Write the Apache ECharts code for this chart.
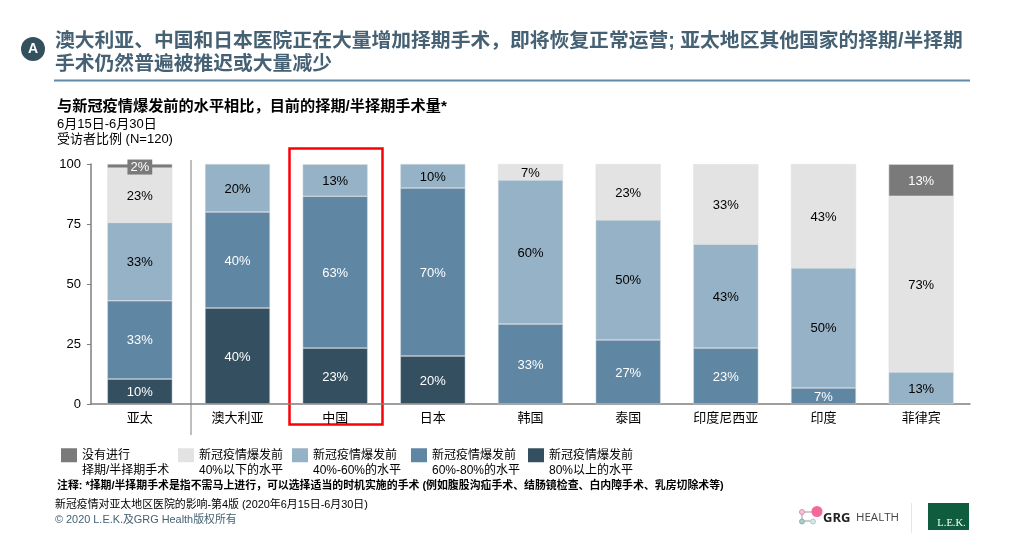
<!DOCTYPE html>
<html>
<head>
<meta charset="utf-8">
<style>
  html, body { margin: 0; padding: 0; background: #fff; }
  #chart { width: 1024px; height: 545px; }
</style>
<script src="https://cdn.jsdelivr.net/npm/echarts@6/dist/echarts.min.js"></script>
</head>
<body>
<div id="chart"></div>
<script>
const categories = ['亚太', '澳大利亚', '中国', '日本', '韩国', '泰国', '印度尼西亚', '印度', '菲律宾'];
const yTicks = [0, 25, 50, 75, 100];

const seriesNames = [
  '新冠疫情爆发前\n80%以上的水平',
  '新冠疫情爆发前\n60%-80%的水平',
  '新冠疫情爆发前\n40%-60%的水平',
  '新冠疫情爆发前\n40%以下的水平',
  '没有进行\n择期/半择期手术'
];
const above80 = [10.4, 40, 23.3, 20, null, null, null, null, null];
const from60to80 = [32.6, 40, 63.3, 70, 33.3, 26.7, 23.3, 6.7, null];
const from40to60 = [32.6, 20, 13.3, 10, 60, 50, 43.3, 50, 13.3];
const below40 = [22.7, null, null, null, 6.7, 23.3, 33.3, 43.3, 73.3];
const noSurgery = [1.7, null, null, null, null, null, null, null, 13.3];

const fontFamily = '"Liberation Sans", "Noto Sans CJK SC", sans-serif';
const titleLines = [
  '澳大利亚、中国和日本医院正在大量增加择期手术，即将恢复正常运营; 亚太地区其他国家的择期/半择期',
  '手术仍然普遍被推迟或大量减少'
];
const subtitle = '与新冠疫情爆发前的水平相比，目前的择期/半择期手术量*';
const dateLine = '6月15日-6月30日';
const baseLine = '受访者比例 (N=120)';
const noteLine = '注释: *择期/半择期手术是指不需马上进行，可以选择适当的时机实施的手术 (例如腹股沟疝手术、结肠镜检查、白内障手术、乳房切除术等)';
const sourceLine = '新冠疫情对亚太地区医院的影响-第4版 (2020年6月15日-6月30日)';
const copyrightLine = '© 2020 L.E.K.及GRG Health版权所有';

function makeSeries(name, values, color, labelColor) {
  return {
    type: 'bar',
    name,
    stack: 'total',
    barWidth: 65,
    data: values,
    itemStyle: { color, borderColor: '#d8dde0', borderWidth: 0.5 },
    label: {
      show: true,
      position: 'inside',
      offset: [0, 1],
      color: labelColor,
      fontSize: 13,
      fontFamily,
      formatter: p => Math.round(p.value) + '%'
    }
  };
}

function makeLegend(name, left) {
  return {
    show: true,
    left,
    top: 432,
    padding: 0,
    selectedMode: false,
    itemWidth: 16,
    itemHeight: 14,
    itemGap: 0,
    icon: 'rect',
    itemStyle: { borderWidth: 0 },
    data: [name],
    // blank first line keeps the swatch level with the first text line
    formatter: n => ' \n' + n,
    textStyle: { color: '#000', fontSize: 12, lineHeight: 15.5, fontFamily }
  };
}

function textItem(x, y, text, size, extra) {
  return {
    type: 'text',
    x,
    y,
    silent: true,
    style: Object.assign({
      text,
      fontSize: size,
      fontFamily,
      fill: '#000',
      verticalAlign: 'middle'
    }, extra)
  };
}

const noneSeries = makeSeries(seriesNames[4], noSurgery.map((v, i) => (i === 0 ? {
  value: v,
  label: { backgroundColor: '#7a7a7a', padding: [1, 3, 1, 3] }
} : v)), '#7a7a7a', '#fff');

const option = {
  animation: false,
  backgroundColor: '#fff',
  grid: { left: 91, right: 54, top: 164, bottom: 141 },
  legend: [
    makeLegend(seriesNames[4], 61),
    makeLegend(seriesNames[3], 178),
    makeLegend(seriesNames[2], 292),
    makeLegend(seriesNames[1], 411),
    makeLegend(seriesNames[0], 528)
  ],
  xAxis: {
    type: 'category',
    data: categories,
    axisLine: { lineStyle: { color: '#7f7f7f', width: 1.5 } },
    axisTick: { show: false },
    axisLabel: { color: '#000', fontSize: 13, margin: 8, fontFamily }
  },
  yAxis: {
    type: 'value',
    min: 0,
    max: yTicks[yTicks.length - 1],
    interval: 25,
    axisLine: { show: true, lineStyle: { color: '#7f7f7f', width: 1.5 } },
    axisTick: { show: true, length: 4, lineStyle: { color: '#7f7f7f' } },
    axisLabel: { color: '#000', fontSize: 13, margin: 10, fontFamily },
    splitLine: { show: false }
  },
  series: [
    makeSeries(seriesNames[0], above80, '#344f60', '#fff'),
    makeSeries(seriesNames[1], from60to80, '#5f86a3', '#fff'),
    makeSeries(seriesNames[2], from40to60, '#96b2c6', '#000'),
    makeSeries(seriesNames[3], below40, '#e3e3e3', '#000'),
    noneSeries
  ],
  graphic: [
    // header
    { type: 'circle', shape: { cx: 33, cy: 49, r: 12 }, style: { fill: '#34505f' }, silent: true },
    textItem(33, 49, 'A', 14, { fill: '#fff', fontWeight: 'bold', align: 'center' }),
    textItem(55, 42, titleLines[0], 19.8, { fill: '#456173', fontWeight: 'bold' }),
    textItem(55, 65, titleLines[1], 19.8, { fill: '#456173', fontWeight: 'bold' }),
    { type: 'line', shape: { x1: 54, y1: 80.5, x2: 970, y2: 80.5 }, style: { stroke: '#5f8aa8', lineWidth: 2 }, silent: true },
    textItem(57, 107, subtitle, 15.2, { fontWeight: 'bold' }),
    textItem(57, 124, dateLine, 13),
    textItem(57, 139.5, baseLine, 13),
    // divider and highlight box
    { type: 'line', shape: { x1: 191, y1: 160, x2: 191, y2: 435 }, style: { stroke: '#7f7f7f', lineWidth: 1 }, silent: true },
    { type: 'rect', shape: { x: 289.5, y: 148.5, width: 93, height: 276 }, style: { fill: 'none', stroke: '#fb0007', lineWidth: 2.5 }, silent: true },
    // footer
    textItem(57, 485.5, noteLine, 10.9, { fontWeight: 'bold' }),
    textItem(55, 505, sourceLine, 10.9),
    textItem(55, 520, copyrightLine, 10.9, { fill: '#456173' }),
    // GRG logo
    { type: 'line', shape: { x1: 802, y1: 512, x2: 812, y2: 512 }, style: { stroke: '#999', lineWidth: 1 }, silent: true },
    { type: 'line', shape: { x1: 802, y1: 521, x2: 812, y2: 521 }, style: { stroke: '#999', lineWidth: 1 }, silent: true },
    { type: 'line', shape: { x1: 802, y1: 512, x2: 802, y2: 521 }, style: { stroke: '#999', lineWidth: 1 }, silent: true },
    { type: 'circle', shape: { cx: 802, cy: 512, r: 2.5 }, style: { fill: '#f5c6da', stroke: '#d98fb0' }, silent: true },
    { type: 'circle', shape: { cx: 802, cy: 521.5, r: 2.5 }, style: { fill: '#a9cccc', stroke: '#8bb3b3' }, silent: true },
    { type: 'circle', shape: { cx: 813, cy: 521.5, r: 2.5 }, style: { fill: '#d5e6e6', stroke: '#a9cccc' }, silent: true },
    { type: 'circle', shape: { cx: 817, cy: 511.5, r: 5.5 }, style: { fill: '#f4689a' }, silent: true },
    textItem(823, 518, 'GRG', 13, { fontWeight: 'bold', fill: '#222', fontFamily: '"Open Sans", sans-serif' }),
    textItem(856, 518, 'HEALTH', 11.5, { fill: '#444', fontFamily: '"Open Sans", sans-serif' }),
    { type: 'line', shape: { x1: 911.5, y1: 503, x2: 911.5, y2: 533 }, style: { stroke: '#e6e6e6', lineWidth: 1 }, silent: true },
    // L.E.K. logo
    { type: 'rect', shape: { x: 928, y: 503, width: 41, height: 27 }, style: { fill: '#0f5c3f' }, silent: true },
    textItem(951.5, 523, 'L.E.K.', 10.5, { fill: '#fff', align: 'center', fontFamily: '"Liberation Serif", serif' })
  ]
};

const chart = echarts.init(document.getElementById('chart'));
chart.setOption(option);
</script>
</body>
</html>
